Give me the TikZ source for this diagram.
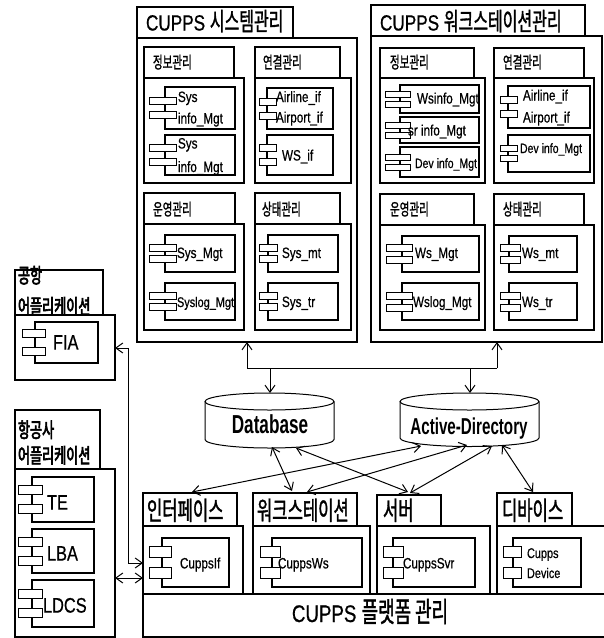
\documentclass[tikz,border=0pt]{standalone}
\usepackage{fontspec}
\setmainfont{Liberation Sans}[FakeStretch=0.78, FakeBold=0.6]
\newfontfamily\nar{Liberation Sans}[FakeStretch=0.66]
\newfontfamily\kr{Noto Sans CJK KR}[FakeStretch=0.64, FakeBold=1.3]
\newfontfamily\krb{Noto Sans CJK KR}[FakeStretch=0.64, FakeBold=3]
\usetikzlibrary{arrows.meta}
\newcommand\fs[1]{\fontsize{#1}{#1}\selectfont}
\tikzset{
  box/.style={draw, line width=1.1pt, anchor=north west, inner sep=0pt, outer sep=0pt},
  sr/.style={draw, line width=1pt, fill=white},
  tx/.style={anchor=base west, inner sep=0pt, outer sep=0pt},
  ln/.style={line width=1pt},
  ar/.style={ln, -{Straight Barb[length=7pt,width=10pt]}},
  da/.style={ln, {Straight Barb[length=7pt,width=10pt]}-{Straight Barb[length=7pt,width=10pt]}},
}
\newcommand\bx[5]{\node[box, minimum width={#4-#2}, minimum height={#5-#3}] (#1) at (#2,#3) {};}
\newcommand\cmp[9]{%
  \bx{#1}{#2}{#3}{#4}{#5}%
  \pgfmathsetmacro\cmid{(#3+#5)/2}%
  \draw[sr] (#6,\cmid-#8-#9) rectangle (#7,\cmid-#8);%
  \draw[sr] (#6,\cmid+#8) rectangle (#7,\cmid+#8+#9);%
}
\begin{document}
\begin{tikzpicture}[x=1pt,y=-1pt]
\useasboundingbox[fill=white] (0,0) rectangle (604,638);
% ---------- CUPPS system management
\bx{systab}{137}{7}{293}{38}
\bx{sysbody}{137}{38}{357}{342}
\node[tx, font=\fs{22}] (systitle) at (146,30.5) {CUPPS {\kr\fs{25}시스템관리}};
\bx{s1tab}{144}{47}{234}{78}
\bx{s1body}{144}{78}{244}{183}
\bx{s2tab}{255}{47}{340}{78}
\bx{s2body}{255}{78}{351}{183}
\bx{s3tab}{144}{193}{235}{224}
\bx{s3body}{144}{224}{244}{330}
\bx{s4tab}{255}{193}{340}{224}
\bx{s4body}{255}{224}{351}{330}
\node[tx, font=\kr\fs{16.5}] (s1t) at (153,68.3) {정보관리};
\node[tx, font=\kr\fs{16.5}] (s2t) at (263,68.3) {연결관리};
\node[tx, font=\kr\fs{16.5}] (s3t) at (153,215.3) {운영관리};
\node[tx, font=\kr\fs{16.5}] (s4t) at (262,215.3) {상태관리};
\cmp{c1}{165}{87}{235}{129}{149}{176}{3.5}{7}
\cmp{c2}{165}{135}{235}{175}{149}{176}{3.5}{7}
\cmp{c3}{267}{88}{333}{129}{259}{276}{3.5}{7}
\cmp{c4}{267}{135}{333}{175}{259}{276}{3.5}{7}
\cmp{c5}{165}{235}{235}{272}{149}{176}{2}{7}
\cmp{c6}{165}{283}{235}{320}{149}{176}{2}{7}
\cmp{c7}{268}{235}{338}{272}{259}{277}{2}{7}
\cmp{c8}{268}{283}{338}{320}{259}{277}{2}{7}
\node[tx, font=\fs{15}] (l1a) at (178,102) {Sys};
\node[tx, font=\fs{15}] (l1b) at (178,123.5) {info\_Mgt};
\node[tx, font=\fs{15}] (l2a) at (178,148.5) {Sys};
\node[tx, font=\fs{15}] (l2b) at (178,172) {info\_Mgt};
\node[tx, font=\fs{15}] (l3a) at (276,102) {Airline\_if};
\node[tx, font=\fs{15}] (l3b) at (276,122.5) {Airport\_if};
\node[tx, font=\fs{15}] (l4) at (282,160.5) {WS\_if};
\node[tx, font=\fs{15}] (l5) at (177,258) {Sys\_Mgt};
\node[tx, font=\fs{14}] (l6) at (177,307) {Syslog\_Mgt};
\node[tx, font=\fs{15}] (l7) at (282,258) {Sys\_mt};
\node[tx, font=\fs{15}] (l8) at (282,307) {Sys\_tr};
% ---------- CUPPS workstation management
\bx{wstab}{371}{5}{585}{36}
\bx{wsbody}{371}{36}{602}{342}
\node[tx, font=\fs{22}] (wstitle) at (380,30.5) {CUPPS {\kr\fs{25}워크스테이션관리}};
\bx{w1tab}{380}{48}{474}{78}
\bx{w1body}{380}{78}{485}{183}
\bx{w2tab}{494}{48}{584}{78}
\bx{w2body}{494}{78}{594}{183}
\bx{w3tab}{380}{194}{474}{225}
\bx{w3body}{380}{225}{485}{330}
\bx{w4tab}{494}{194}{584}{225}
\bx{w4body}{494}{225}{594}{330}
\node[tx, font=\kr\fs{16.5}] (w1t) at (390,68.3) {정보관리};
\node[tx, font=\kr\fs{16.5}] (w2t) at (503,68.3) {연결관리};
\node[tx, font=\kr\fs{16.5}] (w3t) at (390,215.3) {운영관리};
\node[tx, font=\kr\fs{16.5}] (w4t) at (503,215.3) {상태관리};
\cmp{c9}{400}{85}{479}{113}{385}{410}{2}{6}
\cmp{c10}{400}{117}{479}{143}{385}{410}{2}{6}
\cmp{c11}{400}{147}{479}{177}{385}{410}{2}{6}
\cmp{c12}{508}{86}{590}{128}{500}{517}{3.5}{7}
\cmp{c13}{508}{135}{590}{172}{500}{517}{2}{6}
\cmp{c14}{402}{236}{479}{272}{386}{412}{2.5}{7}
\cmp{c15}{402}{283}{479}{320}{386}{412}{2.5}{7}
\cmp{c16}{509}{236}{577}{272}{500}{520}{2.5}{7}
\cmp{c17}{509}{283}{577}{320}{500}{520}{2.5}{7}
\node[tx, font=\fs{15}] (l9) at (417,103.5) {Wsinfo\_Mgt};
\node[tx, font=\fs{15}] (l10) at (408,135.5) {sr info\_Mgt};
\node[tx, font=\fs{13.5}] (l11) at (415,168) {Dev info\_Mgt};
\node[tx, font=\fs{15}] (l12a) at (523,100.5) {Airline\_if};
\node[tx, font=\fs{15}] (l12b) at (523,122.5) {Airport\_if};
\node[tx, font=\fs{13.5}] (l13) at (520,153) {Dev info\_Mgt};
\node[tx, font=\fs{15}] (l14) at (415,258) {Ws\_Mgt};
\node[tx, font=\fs{15}] (l15) at (413,307) {Wslog\_Mgt};
\node[tx, font=\fs{15}] (l16) at (522,258) {Ws\_mt};
\node[tx, font=\fs{15}] (l17) at (522,307) {Ws\_tr};
% ---------- airport application
\bx{aptab}{15}{270}{103}{315}
\bx{apbody}{15}{315}{115}{380}
\node[tx, font=\krb\fs{20.5}] (apt1) at (18,283) {공항};
\node[tx, font=\krb\fs{20.5}] (apt2) at (18,314) {어플리케이션};
\cmp{c18}{35}{322}{98}{363}{22}{45}{5}{8}
\node[tx, font=\fs{21}] (l18) at (53,349.6) {FIA};
% ---------- airline application
\bx{altab}{15}{410}{100}{469}
\bx{albody}{15}{469}{115}{637}
\node[tx, font=\krb\fs{20.5}] (alt1) at (18,437.5) {항공사};
\node[tx, font=\krb\fs{20.5}] (alt2) at (18,463) {어플리케이션};
\cmp{c19}{32}{477}{94}{522}{18}{42}{5}{9}
\cmp{c20}{32}{529}{94}{573}{18}{42}{5}{9}
\cmp{c21}{32}{580}{94}{627}{18}{42}{5}{9}
\node[tx, font=\fs{21}] (l19) at (47,509.6) {TE};
\node[tx, font=\fs{21}] (l20) at (47,560.6) {LBA};
\node[tx, font=\fs{21}] (l21) at (43,612.6) {LDCS};
% ---------- platform
\bx{iftab}{143}{493}{237}{526}
\bx{ifbody}{143}{526}{243}{594}
\bx{wptab}{253}{493}{357}{526}
\bx{wpbody}{253}{526}{370}{594}
\bx{svtab}{377}{495}{441}{526}
\bx{svbody}{377}{526}{490}{594}
\bx{dvtab}{497}{493}{572}{526}
\bx{dvbody}{497}{526}{608}{594}
\bx{base}{143}{594}{608}{637}
\node[tx, font=\kr\fs{26}] (ift) at (147,520) {인터페이스};
\node[tx, font=\kr\fs{26}] (wpt) at (257,520) {워크스테이션};
\node[tx, font=\kr\fs{26}] (svt) at (383,520) {서버};
\node[tx, font=\kr\fs{26}] (dvt) at (502,520) {디바이스};
\cmp{c22}{162}{538}{229}{587}{149}{171}{5}{11}
\cmp{c23}{272}{538}{362}{587}{260}{280}{5}{11}
\cmp{c24}{393}{538}{475}{587}{383}{403}{5}{11}
\cmp{c25}{513}{538}{581}{587}{503}{521}{5}{11}
\node[tx, font=\fs{15}] (l22) at (180,568.4) {CuppsIf};
\node[tx, font=\fs{15}] (l23) at (278,568.4) {CuppsWs};
\node[tx, font=\fs{15}] (l24) at (403,568.4) {CuppsSvr};
\node[tx, font=\fs{14}] (l25a) at (527,558) {Cupps};
\node[tx, font=\fs{14}] (l25b) at (527,578) {Device};
\node[anchor=base, inner sep=0pt, font=\fs{24}] (basetitle) at (370,622) {CUPPS {\kr\fs{28}플랫폼 관리}};
% ---------- cylinders
\draw[ln] (205,401.5) -- (205,439.5) .. controls (205,444.2) and (233.9,448) .. (269.5,448)
  .. controls (305.1,448) and (334,444.2) .. (334,439.5) -- (334,401.5);
\draw[ln] (269.5,401.5) ellipse [x radius=64.5, y radius=8.5];
\draw[ln] (400,401.5) -- (400,438) .. controls (400,442.7) and (431.1,446.5) .. (469.5,446.5)
  .. controls (507.9,446.5) and (539,442.7) .. (539,438) -- (539,401.5);
\draw[ln] (469.5,401.5) ellipse [x radius=69.5, y radius=8.5];
\node[anchor=base, inner sep=0pt, font=\nar\bfseries\fs{26}] (db) at (270,433.4) {Database};
\node[anchor=base, inner sep=0pt, font=\nar\bfseries\fs{23}] (ad) at (469,434) {Active-Directory};
% ---------- connectors
\coordinate (bus1) at (247,368);
\coordinate (bus2) at (497,368);
\coordinate (busdb) at (270,368);
\coordinate (busad) at (470,368);
\coordinate (dbtop) at (270,393);
\coordinate (adtop) at (470,393);
\draw[ln] (bus1) -- (bus2);
\draw[ar] (bus1) -- (sysbody.south);
\draw[ar] (bus2) -- (bus2 |- wsbody.south);
\draw[ar] (busdb) -- (dbtop);
\draw[ar] (busad) -- (adtop);
% app links
\coordinate (fiaR) at (115,348);
\coordinate (fiaK) at (128,348);
\coordinate (ifK) at (128,563);
\draw[da] (fiaR) -- (fiaK) -- (ifK) -- (ifK -| ifbody.west);
\draw[da] (albody.east |- 0,578) -- (ifbody.west |- 0,578);
% diagonals
\coordinate (d1a) at (272,447); \coordinate (d1b) at (292,491);
\coordinate (d2a) at (296,448); \coordinate (d2b) at (408,492);
\coordinate (d3a) at (192,492); \coordinate (d3b) at (421,446);
\coordinate (d4a) at (307,492); \coordinate (d4b) at (467,445);
\coordinate (d5a) at (410,493); \coordinate (d5b) at (492,446);
\coordinate (d6a) at (502,445); \coordinate (d6b) at (533,492);
\draw[da] (d1a) -- (d1b);
\draw[da] (d2a) -- (d2b);
\draw[da] (d3a) -- (d3b);
\draw[da] (d4a) -- (d4b);
\draw[da] (d5a) -- (d5b);
\draw[da] (d6a) -- (d6b);
\end{tikzpicture}
\end{document}
